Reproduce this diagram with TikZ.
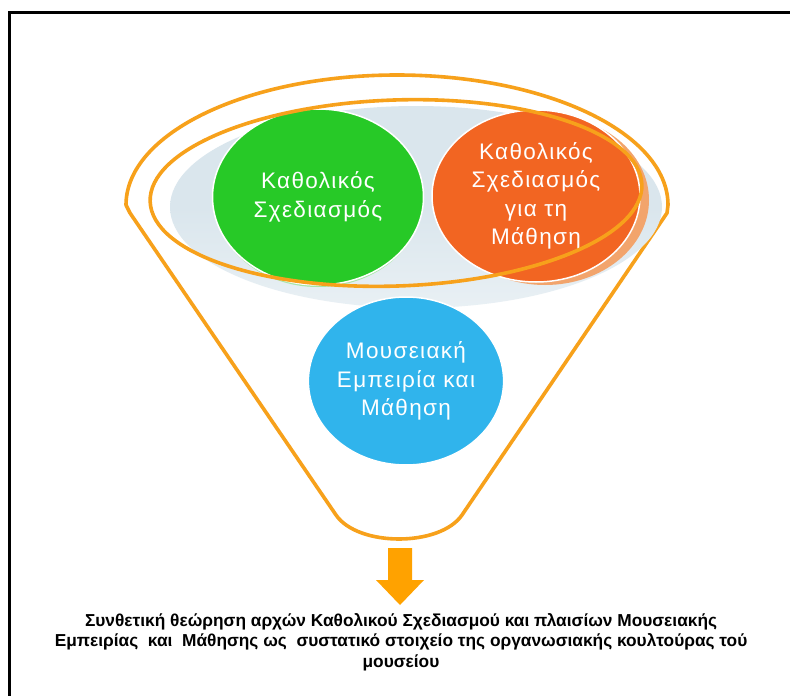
\documentclass[tikz,border=0pt]{standalone}
\usepackage{fontspec}
\setmainfont{Liberation Sans}
\usetikzlibrary{shapes.geometric}
\definecolor{funnelc}{HTML}{F7A11B}
\definecolor{arrowc}{HTML}{FFA200}
\definecolor{grayc}{HTML}{DAE6ED}
\definecolor{grayl}{HTML}{E9F0F4}
\definecolor{greenc}{HTML}{27C927}
\definecolor{greenl}{HTML}{A5E6A5}
\definecolor{orangec}{HTML}{F26522}
\definecolor{orangel}{HTML}{F2A46C}
\definecolor{bluec}{HTML}{30B4EC}
\tikzset{
  funnelline/.style={draw=funnelc, line width=3.6pt, line join=round},
  circ/.style={ellipse, draw=white, line width=1.5pt, inner sep=0pt, text=white, align=center,
    font=\fontsize{22.5}{28.5}\selectfont\addfontfeature{LetterSpace=6}},
  caption/.style={align=center, font=\bfseries\fontsize{17.3}{20.5}\selectfont}
}
\begin{document}
\begin{tikzpicture}[x=1pt,y=-1pt]
\useasboundingbox (0,0) rectangle (790,696);
\fill[white] (0,0) rectangle (790,696);
% frame
\draw[black, line width=3pt] (9.5,696) -- (9.5,12.5) -- (790,12.5);
% funnel outline
\draw[funnelline] (130,213) -- (126,205) arc[start angle=180,end angle=360,x radius=271,y radius=130]
  -- (667,213) -- (462,515) .. controls (440,547) and (358,547) .. (336,515) -- cycle;
% gray disc
\shade[top color=grayc, bottom color=grayl, middle color=grayc] (416,207) ellipse[x radius=246, y radius=101];
% shadows
\fill[greenl] (318,200) ellipse[x radius=104, y radius=87];
\fill[orangel] (545,200) ellipse[x radius=104, y radius=85];
% circles
\node[circ, fill=greenc, minimum width=211pt, minimum height=176pt] (g) at (318,197)
  {Καθολικός\\Σχεδιασμός};
\node[circ, fill=orangec, minimum width=208pt, minimum height=172pt] (o) at (536,196)
  {Καθολικός\\Σχεδιασμός\\για τη\\Μάθηση};
% inner ellipse
\draw[funnelline, rotate around={2:(396,193)}] (396,193) ellipse[x radius=246, y radius=93];
% blue circle
\node[circ, fill=bluec, minimum width=194pt, minimum height=168pt] (b) at (406,381)
  {Μουσειακή\\Εμπειρία και\\Μάθηση};
% arrow
\fill[arrowc] (388,548) -- (412,548) -- (412,580) -- (424,580) -- (400,605) -- (376,580) -- (388,580) -- cycle;
\coordinate (tip) at (400,605);
% caption
\node[caption] (cap) at (401,642)
  {Συνθετική θεώρηση αρχών Καθολικού Σχεδιασμού και πλαισίων Μουσειακής\\
   Εμπειρίας \ και \ Μάθησης ως \ συστατικό στοιχείο της οργανωσιακής κουλτούρας τού\\
   μουσείου};
\end{tikzpicture}
\end{document}
